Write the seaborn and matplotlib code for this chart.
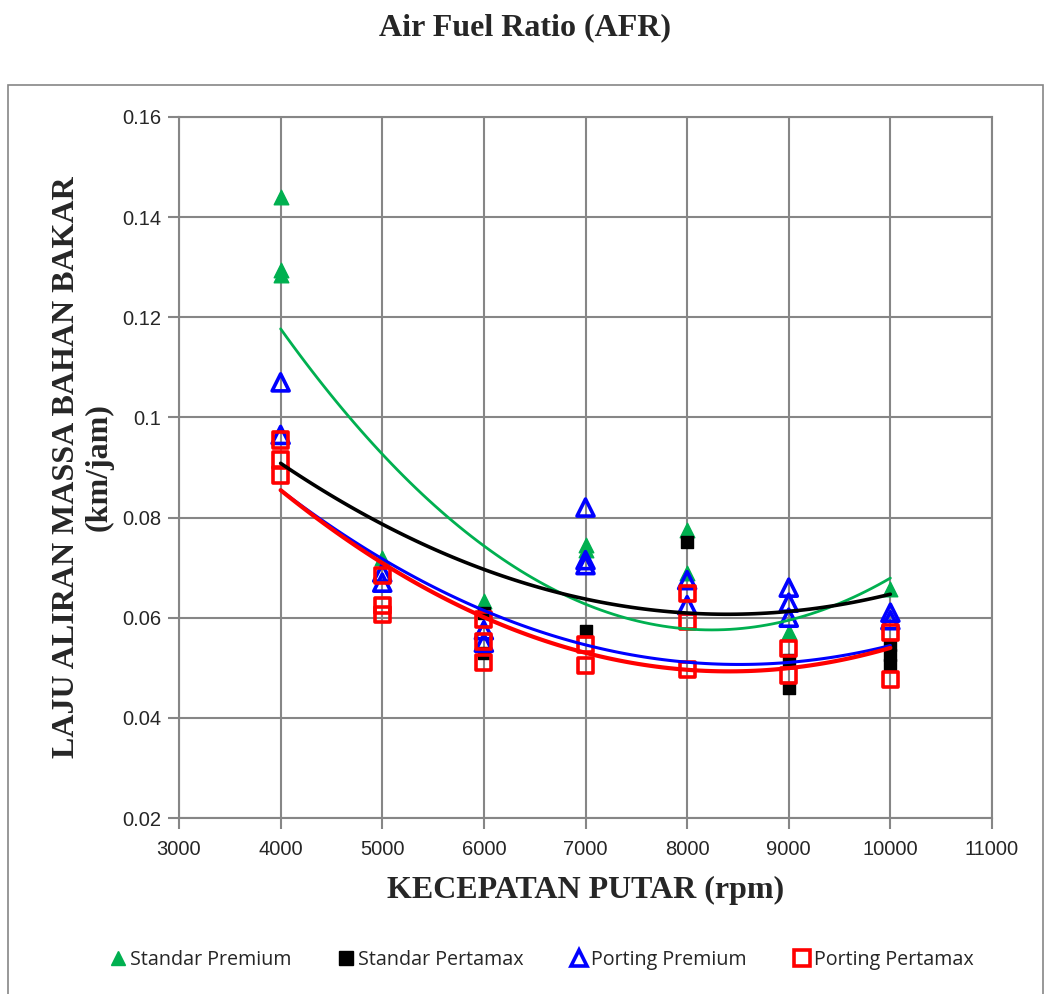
import numpy as np
import pandas as pd
import matplotlib
matplotlib.use('Agg')
import matplotlib.pyplot as plt
import seaborn as sns
from matplotlib.patches import Rectangle
from matplotlib.lines import Line2D

rpm_std_premium = [4000, 4000, 4000, 5000, 6000, 7000, 7000, 8000, 8000, 9000, 10000]
val_std_premium = [0.144, 0.1295, 0.1285, 0.072, 0.0634, 0.0745, 0.0735, 0.0775, 0.069, 0.0572, 0.0658]

rpm_std_pertamax = [6000, 6000, 7000, 8000, 9000, 9000, 10000, 10000, 10000]
val_std_pertamax = [0.061, 0.053, 0.0574, 0.0752, 0.0515, 0.0459, 0.0545, 0.0525, 0.0505]

rpm_port_premium = [4000, 4000, 5000, 5000, 6000, 6000, 7000, 7000, 7000, 8000, 8000,
                    9000, 9000, 9000, 10000, 10000]
val_port_premium = [0.107, 0.0965, 0.069, 0.067, 0.0575, 0.055, 0.082, 0.0715, 0.0705, 0.0675, 0.0625,
                    0.066, 0.063, 0.060, 0.061, 0.0595]

rpm_port_pertamax = [4000, 4000, 4000, 5000, 5000, 5000, 6000, 6000, 6000, 7000, 7000,
                     8000, 8000, 8000, 9000, 9000, 10000, 10000]
val_port_pertamax = [0.0955, 0.0915, 0.0885, 0.0685, 0.0625, 0.0606, 0.0596, 0.0552, 0.0511, 0.0546, 0.0505,
                     0.0649, 0.0592, 0.0496, 0.0539, 0.0485, 0.0571, 0.0476]

# polynomial trendline values at each rpm
rpm_trend = [4000, 5000, 6000, 7000, 8000, 9000, 10000]
trend_std_premium = [0.1176, 0.0929, 0.0741, 0.0629, 0.0579, 0.0591, 0.0681]
trend_std_pertamax = [0.0909, 0.0785, 0.0699, 0.0635, 0.0611, 0.0612, 0.0647]
trend_port_premium = [0.0857, 0.0715, 0.0613, 0.0545, 0.0515, 0.0511, 0.0543]
trend_port_pertamax = [0.0857, 0.0705, 0.0601, 0.0532, 0.0499, 0.0495, 0.0541]

series_names = ['Standar Premium', 'Standar Pertamax', 'Porting Premium', 'Porting Pertamax']
x_ticks = [3000, 4000, 5000, 6000, 7000, 8000, 9000, 10000, 11000]
y_ticks = [0.02, 0.04, 0.06, 0.08, 0.1, 0.12, 0.14, 0.16]

series = {
    'Standar Premium': (rpm_std_premium, val_std_premium, trend_std_premium),
    'Standar Pertamax': (rpm_std_pertamax, val_std_pertamax, trend_std_pertamax),
    'Porting Premium': (rpm_port_premium, val_port_premium, trend_port_premium),
    'Porting Pertamax': (rpm_port_pertamax, val_port_pertamax, trend_port_pertamax),
}

styles = {
    'Standar Premium': dict(marker='^', color='#00B050', face='#00B050', s=110, mlw=1, lw=2.0),
    'Standar Pertamax': dict(marker='s', color='black', face='black', s=85, mlw=1, lw=2.6),
    'Porting Premium': dict(marker='^', color='#0000FF', face='none', s=150, mlw=2.6, lw=2.2),
    'Porting Pertamax': dict(marker='s', color='#FF0000', face='none', s=120, mlw=2.6, lw=3.0),
}

sns.set_style('white')
plt.rcParams['font.family'] = ['Liberation Sans', 'DejaVu Sans']

fig = plt.figure(figsize=(10.5, 9.94), dpi=100)
ax = fig.add_axes([179 / 1050, 1 - 818 / 994, (992 - 179) / 1050, (818 - 117) / 994])

# markers first
for name in series_names:
    xs, ys, _ = series[name]
    st = styles[name]
    df = pd.DataFrame({'rpm': xs, 'val': ys})
    sns.scatterplot(data=df, x='rpm', y='val', ax=ax, marker=st['marker'], s=st['s'],
                    color=st['color'], facecolor=st['face'], edgecolor=st['color'],
                    linewidth=st['mlw'], zorder=3)

# 2nd order trendlines on top
for name in series_names:
    _, _, tr = series[name]
    st = styles[name]
    df = pd.DataFrame({'rpm': rpm_trend, 'val': tr})
    sns.regplot(data=df, x='rpm', y='val', ax=ax, order=2, ci=None, scatter=False,
                color=st['color'], line_kws=dict(lw=st['lw'], zorder=4))

grid_c = '#868686'
ax.set_xlim(3000, 11000)
ax.set_ylim(0.02, 0.16)
ax.set_xticks(x_ticks)
ax.set_yticks(y_ticks)
ax.set_yticklabels([f'{v:g}' for v in y_ticks])
ax.grid(True, color=grid_c, lw=1.5)
ax.set_axisbelow(True)
for sp in ax.spines.values():
    sp.set_color(grid_c)
    sp.set_linewidth(1.5)
ax.tick_params(axis='both', which='major', labelsize=14.5, length=8, width=1.5, color=grid_c,
               direction='out', pad=5, left=True, bottom=True)
ax.tick_params(axis='x', pad=8)

ax.set_xlabel('KECEPATAN PUTAR (rpm)', family='Liberation Serif', fontsize=23,
              fontweight='bold', labelpad=12)
ax.set_ylabel('LAJU ALIRAN MASSA BAHAN BAKAR\n(km/jam)', family='Liberation Serif',
              fontsize=23, fontweight='bold', labelpad=6, linespacing=1.15)

fig.text(0.5, 1 - 28 / 994, 'Air Fuel Ratio (AFR)', ha='center', va='center',
         family='Liberation Serif', fontsize=23, fontweight='bold')

# outer chart-area border
fig.patches.append(Rectangle((8 / 1050, -0.01), (1043 - 8) / 1050, (994 - 85) / 994 + 0.01,
                             transform=fig.transFigure, fill=False, edgecolor=grid_c, lw=1.2))

handles = []
for name in series_names:
    st = styles[name]
    hollow = st['face'] == 'none'
    handles.append(Line2D([], [], ls='', marker=st['marker'], markersize=11 if hollow else 10,
                          markerfacecolor='white' if hollow else st['face'],
                          markeredgecolor=st['color'], markeredgewidth=st['mlw'] if hollow else 1))
fig.legend(handles, series_names, loc='center', bbox_to_anchor=(0.515, 1 - 960 / 994), ncol=4,
           frameon=False, handletextpad=0.1, columnspacing=2.3, handlelength=1.0,
           prop={'family': 'Open Sans', 'size': 14.2})

fig.savefig('out.png', dpi=100)
